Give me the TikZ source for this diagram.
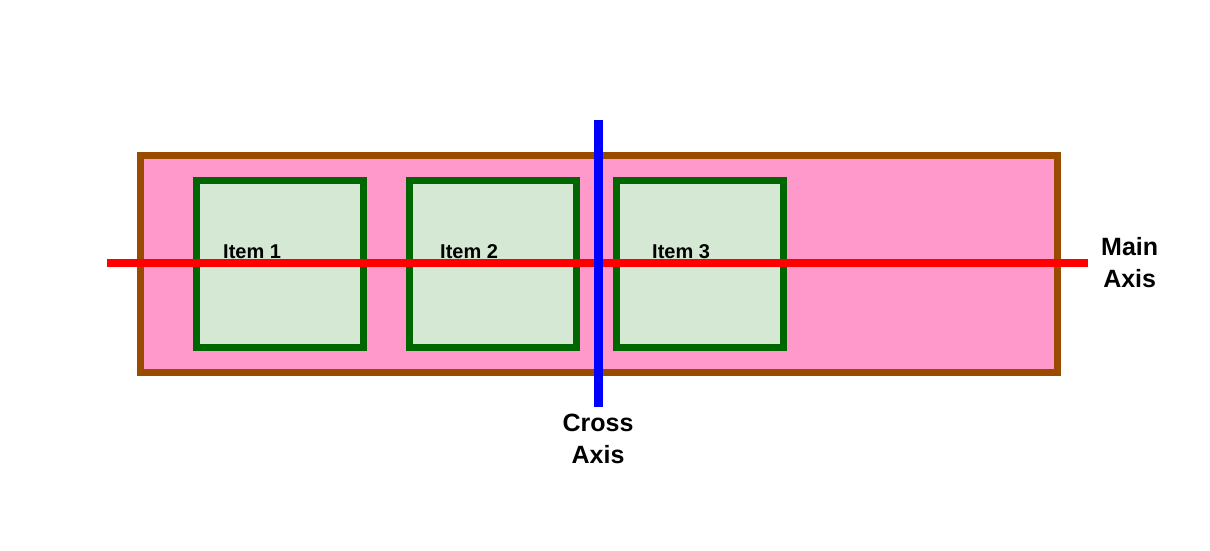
\documentclass[tikz,border=0pt]{standalone}
\usepackage{fontspec}
\setmainfont{Liberation Sans}
\usetikzlibrary{positioning}
\definecolor{boxbrown}{HTML}{994C00}
\definecolor{boxpink}{HTML}{FF99CC}
\definecolor{itemgreen}{HTML}{006600}
\definecolor{itemfill}{HTML}{D5E8D4}

\begin{document}
\begin{tikzpicture}[
  x=1pt, y=-1pt,
  container/.style={draw=boxbrown, fill=boxpink, line width=7pt, minimum width=917pt, minimum height=217pt, inner sep=0pt},
  item/.style={draw=itemgreen, fill=itemfill, line width=7pt, minimum size=167pt, inner sep=0pt, outer sep=0pt},
  itemlabel/.style={font=\fontsize{20}{22}\selectfont\bfseries, anchor=base west, inner sep=0pt},
  axislabel/.style={font=\fontsize{25}{32}\selectfont\bfseries, align=center, inner sep=0pt},
  mainaxis/.style={draw=red, line width=8pt},
  crossaxis/.style={draw=blue, line width=9pt}
]
\useasboundingbox (0,0) rectangle (1210,550);
\node[container] (flex) at (598.5,263.5) {};
\node[item] (i1) at (279.5,263.5) {};
\node[item, right=46pt of i1] (i2) {};
\node[item, right=40pt of i2] (i3) {};
\node[itemlabel] (t1) at (223,258) {Item 1};
\node[itemlabel] (t2) at (440,258) {Item 2};
\node[itemlabel] (t3) at (652,258) {Item 3};
% axes
\coordinate (mainstart) at (107,262.5);
\coordinate (mainend) at (1088,262.5);
\coordinate (crosstop) at (598,120);
\coordinate (crossbot) at (598,407);
\draw[mainaxis] (mainstart) -- (mainend);
\draw[crossaxis] (crosstop) -- (crossbot);
\node[axislabel, right=13pt of mainend] (mainlbl) {Main\\Axis};
\node[axislabel, below=7pt of crossbot] (crosslbl) {Cross\\Axis};
\end{tikzpicture}
\end{document}
